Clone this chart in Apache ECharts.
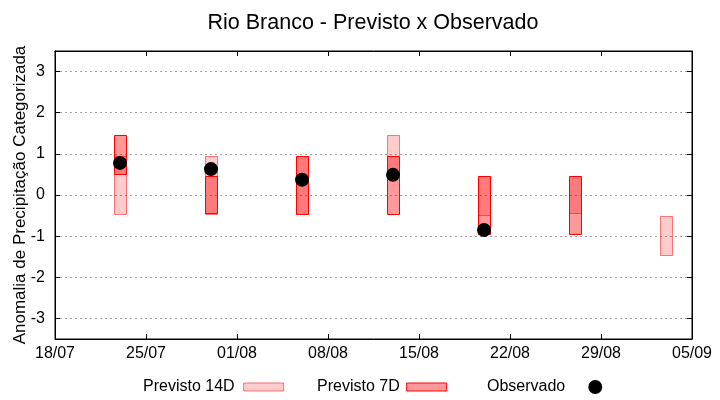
<!DOCTYPE html>
<html>
<head>
<meta charset="utf-8">
<script src="https://cdn.jsdelivr.net/npm/echarts@6/dist/echarts.min.js"></script>
<style>html,body{margin:0;padding:0;background:#fff;}#c{width:720px;height:400px;}</style>
</head>
<body>
<div id="c"></div>
<script>
const YEAR = 2023;
const startDate = '18/07';
const tickLabels = ['18/07', '25/07', '01/08', '08/08', '15/08', '22/08', '29/08', '05/09'];
const yTicks = [-3, -2, -1, 0, 1, 2, 3];
const forecastDates = ['23/07', '30/07', '06/08', '13/08', '20/08', '27/08', '03/09'];
const prev14Low  = [-0.45, -0.45, -0.45, 0.50, -0.50, -0.45, -1.45];
const prev14High = [ 0.95,  0.95,  0.95, 1.45,  0.45,  0.45, -0.50];
const prev7Low   = [ 0.50, -0.45, -0.45, -0.45, -0.95, -0.95, null];
const prev7High  = [ 1.45,  0.45,  0.95,  0.95,  0.45,  0.45, null];
const obsDates  = ['23/07', '30/07', '06/08', '13/08', '20/08'];
const obsValues = [0.78, 0.63, 0.37, 0.49, -0.85];

function toUTC(s) { const p = s.split('/'); return Date.UTC(YEAR, +p[1] - 1, +p[0]); }
const base = toUTC(startDate);
function dayOffset(s) { return Math.round((toUTC(s) - base) / 86400000); }

const data14 = [], data7 = [];
forecastDates.forEach((d, i) => {
  if (prev14Low[i] != null) data14.push([dayOffset(d), prev14Low[i], prev14High[i]]);
  if (prev7Low[i] != null) data7.push([dayOffset(d), prev7Low[i], prev7High[i]]);
});
const obsData = obsDates.map((d, i) => [dayOffset(d), obsValues[i]]);
const xMax = (tickLabels.length - 1) * 7;

function boxRender(fill, stroke) {
  return function (params, api) {
    const x = api.value(0);
    const top = api.coord([x, api.value(2)]);
    const bot = api.coord([x, api.value(1)]);
    const w = api.size([0.95, 0])[0];
    return {
      type: 'rect',
      shape: { x: Math.round(top[0] - w / 2) + 0.5, y: Math.round(top[1]) + 0.5, width: Math.round(w), height: Math.round(bot[1] - top[1]) },
      style: { fill: fill, stroke: stroke, lineWidth: 1 }
    };
  };
}

const FONT = 'Liberation Sans, Arial, sans-serif';
const c14 = { fill: 'rgba(255,0,0,0.2)', stroke: 'rgba(255,0,0,0.5)' };
const c7 = { fill: 'rgba(255,0,0,0.4)', stroke: '#ff0000' };

const chart = echarts.init(document.getElementById('c'), null, { renderer: 'canvas' });
const legendCommon = { orient: 'horizontal', align: 'right', top: 379, itemGap: 0, padding: 0,
  textStyle: { fontFamily: FONT, fontSize: 16, color: '#000' }, selectedMode: false };
chart.setOption({
  animation: false,
  backgroundColor: '#fff',
  title: { text: 'Rio Branco - Previsto x Observado', left: 368, top: 7, textAlign: 'center',
    textStyle: { fontFamily: FONT, fontSize: 21.5, fontWeight: 'normal', color: '#000' } },
  legend: [
    Object.assign({}, legendCommon, { left: 143, itemWidth: 40, itemHeight: 8,
      textStyle: Object.assign({}, legendCommon.textStyle, { padding: [0, 4, 0, 0] }),
      data: [{ name: 'Previsto 14D', icon: 'rect', itemStyle: { color: c14.fill, borderColor: c14.stroke, borderWidth: 1 } }] }),
    Object.assign({}, legendCommon, { left: 317, itemWidth: 40, itemHeight: 8,
      textStyle: Object.assign({}, legendCommon.textStyle, { padding: [0, 2, 0, 0] }),
      data: [{ name: 'Previsto 7D', icon: 'rect', itemStyle: { color: c7.fill, borderColor: c7.stroke, borderWidth: 1 } }] }),
    Object.assign({}, legendCommon, { left: 487, itemWidth: 50, itemHeight: 14, top: 379,
      data: [{ name: 'Observado', icon: 'circle', itemStyle: { color: '#000', opacity: 1 } }] })
  ],
  grid: { left: 55, right: 28, top: 51, bottom: 61, show: true, borderColor: '#000', borderWidth: 1,
    containLabel: false, outerBoundsMode: 'none' },
  xAxis: [
    { type: 'value', min: 0, max: xMax, interval: 7, position: 'bottom',
      axisLine: { show: true, onZero: false, lineStyle: { color: '#000', width: 1 } },
      axisTick: { show: true, inside: true, length: 5, lineStyle: { color: '#000' } },
      axisLabel: { margin: 7, fontFamily: FONT, fontSize: 16, color: '#000',
        formatter: v => tickLabels[Math.round(v / 7)] },
      splitLine: { show: false } },
    { type: 'value', min: 0, max: xMax, interval: 7, position: 'top',
      axisLine: { show: true, onZero: false, lineStyle: { color: '#000', width: 1 } },
      axisTick: { show: true, inside: true, length: 5, lineStyle: { color: '#000' } },
      axisLabel: { show: false }, splitLine: { show: false } }
  ],
  yAxis: [
    { type: 'value', min: -3.5, max: 3.5, position: 'left',
      name: 'Anomalia de Precipitação Categorizada', nameLocation: 'middle', nameGap: 35,
      nameMoveOverlap: false,
      nameTextStyle: { fontFamily: FONT, fontSize: 17, color: '#000', verticalAlign: 'middle' },
      axisLine: { show: true, onZero: false, lineStyle: { color: '#000', width: 1 } },
      axisTick: { show: true, inside: true, length: 5, lineStyle: { color: '#000' }, customValues: yTicks },
      axisLabel: { margin: 10, fontFamily: FONT, fontSize: 16, color: '#000', customValues: yTicks },
      splitLine: { show: true, lineStyle: { color: '#a0a0a0', width: 1, type: [2, 3] } } },
    { type: 'value', min: -3.5, max: 3.5, position: 'right',
      axisLine: { show: true, onZero: false, lineStyle: { color: '#000', width: 1 } },
      axisTick: { show: true, inside: true, length: 5, lineStyle: { color: '#000' }, customValues: yTicks },
      axisLabel: { show: false }, splitLine: { show: false } }
  ],
  series: [
    { name: 'Previsto 14D', type: 'custom', xAxisIndex: 0, yAxisIndex: 0, data: data14,
      encode: { x: 0, y: [1, 2] }, renderItem: boxRender(c14.fill, c14.stroke),
      itemStyle: { color: c14.fill, borderColor: c14.stroke }, z: 2 },
    { name: 'Previsto 7D', type: 'custom', xAxisIndex: 0, yAxisIndex: 0, data: data7,
      encode: { x: 0, y: [1, 2] }, renderItem: boxRender(c7.fill, c7.stroke),
      itemStyle: { color: c7.fill, borderColor: c7.stroke }, z: 3 },
    { name: 'Observado', type: 'scatter', xAxisIndex: 0, yAxisIndex: 0, data: obsData,
      symbol: 'circle', symbolSize: 14, itemStyle: { color: '#000', opacity: 1 }, z: 4 }
  ]
});
</script>
</body>
</html>
